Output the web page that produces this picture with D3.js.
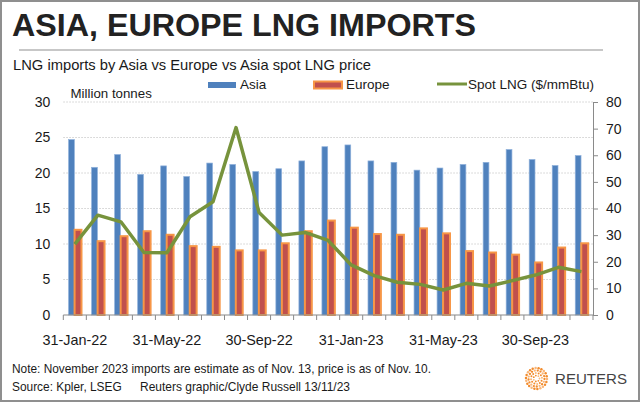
<!DOCTYPE html>
<html>
<head>
<meta charset="utf-8">
<script src="https://cdn.jsdelivr.net/npm/d3@7"></script>
<style>
  html, body { margin: 0; padding: 0; background: #fff; }
  svg { display: block; font-family: "Liberation Sans", Arial, sans-serif; }
</style>
</head>
<body>
<svg id="chart" width="640" height="402"></svg>
<script>
// ---- data ----
const months = ["31-Jan-22","28-Feb-22","31-Mar-22","30-Apr-22","31-May-22","30-Jun-22","31-Jul-22","31-Aug-22","30-Sep-22","31-Oct-22","30-Nov-22","31-Dec-22",
                "31-Jan-23","28-Feb-23","31-Mar-23","30-Apr-23","31-May-23","30-Jun-23","31-Jul-23","31-Aug-23","30-Sep-23","31-Oct-23","30-Nov-23"];
const asia   = [24.7, 20.8, 22.6, 19.8, 21.0, 19.5, 21.4, 21.2, 20.2, 20.6, 21.7, 23.7, 23.95, 21.7, 21.5, 20.4, 20.7, 21.2, 21.5, 23.3, 21.9, 21.05, 22.45];
const europe = [12.0, 10.4, 11.1, 11.8, 11.3, 9.7, 9.6, 9.1, 9.1, 10.1, 11.8, 13.3, 12.3, 11.4, 11.3, 12.2, 11.5, 9.0, 8.8, 8.5, 7.4, 9.5, 10.1];
const spot   = [26.6, 37.5, 35.0, 23.5, 23.4, 36.9, 42.5, 70.4, 38.5, 30.0, 31.0, 28.0, 18.8, 14.8, 12.3, 11.5, 9.4, 11.9, 10.9, 12.9, 15.0, 17.9, 16.3];
const xTickLabels = ["31-Jan-22","31-May-22","30-Sep-22","31-Jan-23","31-May-23","30-Sep-23"];
const leftTicks  = [0, 5, 10, 15, 20, 25, 30];
const rightTicks = [0, 10, 20, 30, 40, 50, 60, 70, 80];
const seriesNames = ["Asia", "Europe", "Spot LNG ($/mmBtu)"];

const title = "ASIA, EUROPE LNG IMPORTS";
const subtitle = "LNG imports by Asia vs Europe vs Asia spot LNG price";
const unitLabel = "Million tonnes";
const note = "Note: November 2023 imports are estimate as of Nov. 13, price is as of Nov. 10.";
const source1 = "Source: Kpler, LSEG";
const source2 = "Reuters graphic/Clyde Russell 13/11/23";

// ---- layout ----
const svg = d3.select("#chart");
const plot = { left: 63.3, right: 593, top: 102, bottom: 315 };
const C = { asia: "#4F81BD", asiaEdge: "#8EB0DB", eu: "#C0504D", euEdge: "#F79646", spot: "#77933C",
            text: "#1a1a1a", axis: "#8a8a8a", grid: "#d0d0d0" };

svg.append("rect").attr("x", 1).attr("y", 1).attr("width", 638).attr("height", 400)
  .attr("fill", "#fff").attr("stroke", "#8f8f8f").attr("stroke-width", 2);

svg.append("text").attr("x", 12).attr("y", 36).text(title)
  .attr("font-size", 32).attr("font-weight", "bold").attr("fill", "#222")
  .attr("textLength", 464).attr("lengthAdjust", "spacingAndGlyphs");
svg.append("line").attr("x1", 19).attr("x2", 603).attr("y1", 50).attr("y2", 50)
  .attr("stroke", "#b5b5b5").attr("stroke-width", 1.5);
svg.append("text").attr("x", 13).attr("y", 70).text(subtitle)
  .attr("font-size", 14.6).attr("fill", C.text)
  .attr("textLength", 358).attr("lengthAdjust", "spacingAndGlyphs");

// ---- scales ----
const x = d3.scaleBand().domain(months).range([plot.left, plot.right]).padding(0);
const bw = x.bandwidth();
const cx = d => x(d) + bw / 2;
const yL = d3.scaleLinear().domain([0, 30]).range([plot.bottom, plot.top]);
const yR = d3.scaleLinear().domain([0, 80]).range([plot.bottom, plot.top]);

// gridlines
svg.append("g").selectAll("line").data(leftTicks.filter(t => t > 0)).join("line")
  .attr("x1", plot.left).attr("x2", plot.right)
  .attr("y1", d => yL(d)).attr("y2", d => yL(d))
  .attr("stroke", C.grid).attr("stroke-width", 1).attr("stroke-dasharray", "1.5,1.5");

// left axis labels
const gL = svg.append("g").attr("transform", `translate(${plot.left},0)`)
  .call(d3.axisLeft(yL).tickValues(leftTicks).tickSize(0).tickPadding(13));
gL.select(".domain").remove();
gL.selectAll("text").attr("font-size", 14).attr("fill", C.text).attr("font-family", "Liberation Sans, Arial, sans-serif");

// right axis
const gR = svg.append("g").attr("transform", `translate(${plot.right},0)`)
  .call(d3.axisRight(yR).tickValues(rightTicks).tickSize(5).tickPadding(8));
gR.select(".domain").attr("stroke", C.axis);
gR.selectAll("line").attr("stroke", C.axis);
gR.selectAll("text").attr("font-size", 14).attr("fill", C.text).attr("font-family", "Liberation Sans, Arial, sans-serif");

// bars
svg.append("g").selectAll("rect").data(months).join("rect")
  .attr("x", d => cx(d) - 0.27 * bw).attr("width", 0.25 * bw)
  .attr("y", (d, i) => yL(asia[i])).attr("height", (d, i) => yL(0) - yL(asia[i]))
  .attr("fill", C.asia).attr("stroke", C.asiaEdge).attr("stroke-width", 0.7);
svg.append("g").selectAll("rect").data(months).join("rect")
  .attr("x", d => cx(d) - 0.01 * bw).attr("width", 0.3 * bw)
  .attr("y", (d, i) => yL(europe[i])).attr("height", (d, i) => yL(0) - yL(europe[i]))
  .attr("fill", C.eu).attr("stroke", C.euEdge).attr("stroke-width", 2);

// bottom axis
const gB = svg.append("g").attr("transform", `translate(0,${plot.bottom})`);
gB.append("line").attr("x1", plot.left).attr("x2", plot.right).attr("stroke", C.axis).attr("stroke-width", 1.2);
gB.selectAll("line.tk").data(months.concat(["end"])).join("line").attr("class", "tk")
  .attr("x1", (d, i) => plot.left + i * bw).attr("x2", (d, i) => plot.left + i * bw)
  .attr("y1", 0).attr("y2", 5).attr("stroke", C.axis);
gB.selectAll("text").data(xTickLabels).join("text")
  .attr("x", d => cx(d)).attr("y", 30).attr("text-anchor", "middle")
  .attr("font-size", 14.4).attr("fill", C.text).text(d => d);

// spot line
const line = d3.line().x((d, i) => cx(months[i])).y(d => yR(d));
svg.append("path").datum(spot).attr("d", line)
  .attr("fill", "none").attr("stroke", C.spot).attr("stroke-width", 3.5).attr("stroke-linejoin", "round");

// unit label
svg.append("text").attr("x", 70.5).attr("y", 98).text(unitLabel).attr("font-size", 13.3).attr("fill", C.text);

// legend
const lg = svg.append("g");
lg.append("rect").attr("x", 208).attr("y", 82).attr("width", 28).attr("height", 6).attr("fill", C.asia);
lg.append("text").attr("x", 240).attr("y", 89).text(seriesNames[0]).attr("font-size", 13.5).attr("fill", C.text);
lg.append("rect").attr("x", 314).attr("y", 81.5).attr("width", 28).attr("height", 7).attr("fill", C.eu)
  .attr("stroke", C.euEdge).attr("stroke-width", 2);
lg.append("text").attr("x", 346).attr("y", 89).text(seriesNames[1]).attr("font-size", 13.5).attr("fill", C.text);
lg.append("line").attr("x1", 437).attr("x2", 467).attr("y1", 84).attr("y2", 84).attr("stroke", C.spot).attr("stroke-width", 3);
lg.append("text").attr("x", 468).attr("y", 89).text(seriesNames[2]).attr("font-size", 13.5).attr("fill", C.text);

// footer
svg.append("text").attr("x", 12).attr("y", 373).text(note).attr("font-size", 11.9).attr("fill", C.text)
  .attr("textLength", 419).attr("lengthAdjust", "spacingAndGlyphs");
svg.append("text").attr("x", 12).attr("y", 391).text(source1).attr("font-size", 11.9).attr("fill", C.text);
svg.append("text").attr("x", 140).attr("y", 391).text(source2).attr("font-size", 11.9).attr("fill", C.text)
  .attr("textLength", 210).attr("lengthAdjust", "spacingAndGlyphs");

// Reuters logo (decorative)
const logo = svg.append("g").attr("transform", "translate(536.5,378.5)");
const rings = [[3, 7, 0.9], [5.5, 12, 1.0], [8, 17, 1.15], [10.5, 22, 1.25]];
rings.forEach(([r, n, s], k) => {
  d3.range(n).forEach(j => {
    const a = (j / n) * 2 * Math.PI + k * 0.4;
    logo.append("circle").attr("cx", r * Math.cos(a)).attr("cy", r * Math.sin(a)).attr("r", s)
      .attr("fill", (j + k) % 3 === 0 ? "#F9B77A" : "#F28C2E");
  });
});
svg.append("text").attr("x", 555).attr("y", 383.5).text("REUTERS")
  .attr("font-size", 15.5).attr("fill", "#444").attr("textLength", 72).attr("lengthAdjust", "spacingAndGlyphs");
</script>
</body>
</html>
